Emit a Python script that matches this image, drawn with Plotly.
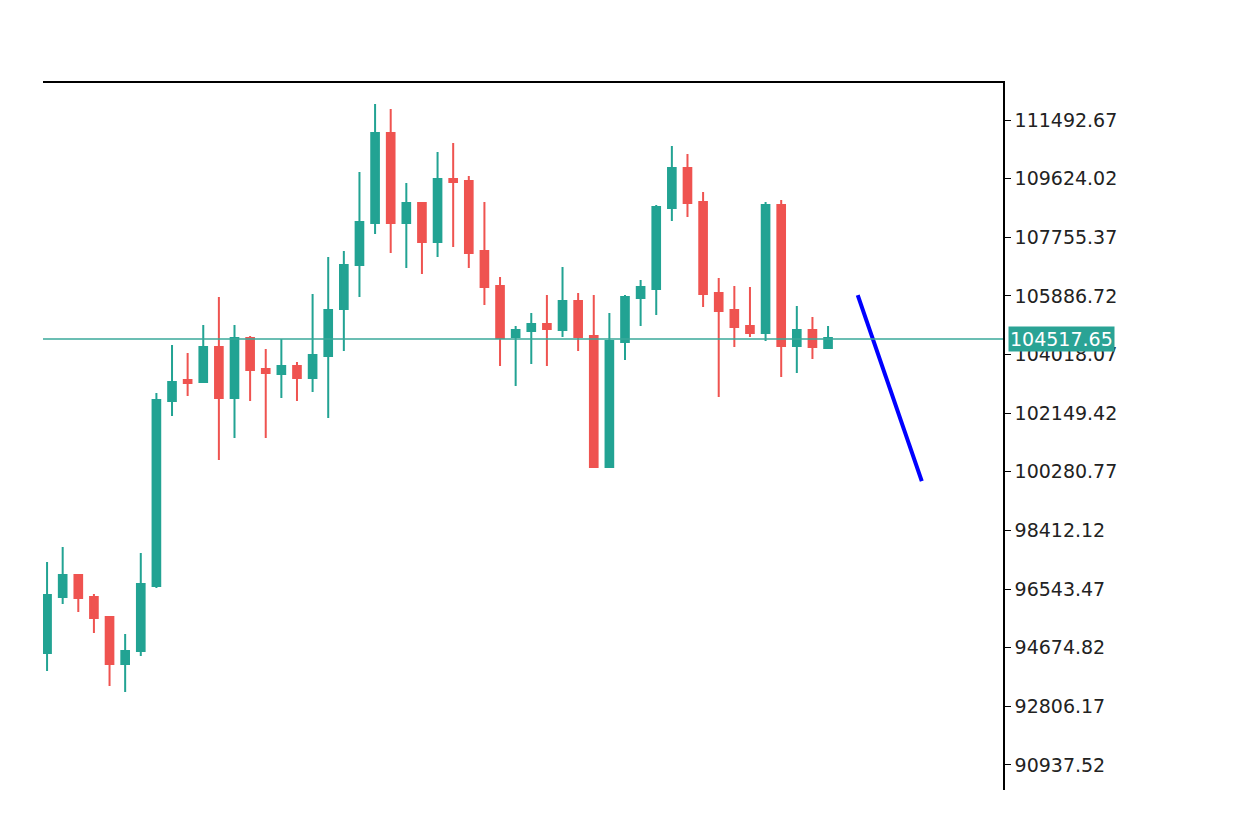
import plotly.graph_objects as go

# candle data (open, high, low, close)
opens = [94506, 96291, 96992, 96291, 95654, 94156, 94570, 96642, 102538, 103207,
         103143, 104258, 102633, 104545, 103557, 103398, 103652, 103271, 103971, 105469,
         106872, 108210, 111078, 108210, 108847, 107605, 109612, 109549, 107318, 106202,
         104577, 104768, 104991, 104800, 105724, 104609, 100433, 104418, 105820, 106107,
         108688, 109963, 108879, 105979, 105437, 104927, 104704, 108784, 104290, 104800,
         104226]
highs = [97406, 97885, 96992, 96387, 95654, 95112, 97693, 102792, 104322, 104067,
         104959, 105852, 104959, 104609, 104194, 104513, 103780, 105947, 107127, 107318,
         109835, 112003, 111843, 109485, 108879, 110473, 110760, 109708, 108879, 106489,
         104927, 105342, 105915, 106808, 105979, 105915, 105342, 105915, 106394, 108784,
         110664, 110409, 109198, 106457, 106202, 106170, 108879, 108943, 105565, 105214,
         104927]
lows = [93933, 96068, 95813, 95144, 93455, 93263, 94411, 96578, 102059, 102697,
        103143, 100657, 101358, 102538, 101358, 102633, 102538, 102824, 101996, 104130,
        105852, 107860, 107254, 106776, 106585, 107127, 107445, 106776, 105597, 103652,
        103015, 103716, 103652, 104577, 104130, 100400, 100400, 103844, 104927, 105278,
        108274, 108401, 105533, 102665, 104258, 104577, 104449, 103302, 103430, 103876,
        104194]
closes = [96355, 96992, 96259, 95622, 94156, 94570, 96705, 102569, 103143, 103111,
          104258, 102633, 104545, 103525, 103430, 103652, 103271, 104003, 105437, 106872,
          108242, 111078, 108210, 108847, 107605, 109612, 109517, 107254, 106170, 104545,
          104800, 104991, 104832, 105724, 104577, 100433, 104449, 105852, 106170, 108720,
          109963, 108847, 105947, 105405, 104895, 104704, 108784, 104290, 104800, 104258,
          104545]

current_price = 104517.65
tick_vals = [111492.67, 109624.02, 107755.37, 105886.72, 104018.07, 102149.42,
             100280.77, 98412.12, 96543.47, 94674.82, 92806.17, 90937.52]

trend_x = [51.9, 56.0]
trend_y = [105915, 99987]

x = list(range(len(opens)))
green = '#22a393'
red = '#ef5350'

fig = go.Figure()
fig.add_trace(go.Candlestick(
    x=x, open=opens, high=highs, low=lows, close=closes,
    increasing=dict(line=dict(color=green, width=2), fillcolor=green),
    decreasing=dict(line=dict(color=red, width=2), fillcolor=red),
    whiskerwidth=0, showlegend=False, hoverinfo='skip'
))
fig.add_trace(go.Scatter(
    x=trend_x, y=trend_y, mode='lines',
    line=dict(color='#0000ff', width=4), showlegend=False
))
fig.add_hline(y=current_price, line=dict(color='#3aa89a', width=1.5))
fig.add_annotation(
    x=1.005, xref='paper', xanchor='left', y=current_price, yref='y',
    text=f"{current_price:.2f}", showarrow=False,
    font=dict(family='DejaVu Sans', size=19, color='white'),
    bgcolor='#2aa395', borderpad=1
)

# page body has an 8px margin, so margins are shifted by that
fig.update_layout(
    width=1233, height=835,
    margin=dict(l=35, r=238, t=75, b=53),
    plot_bgcolor='white', paper_bgcolor='white',
    xaxis=dict(range=[-0.26, 61.2], showgrid=False, zeroline=False,
               showticklabels=False, rangeslider=dict(visible=False),
               showline=True, side='top', linecolor='black', linewidth=1.5,
               ticks=''),
    yaxis=dict(range=[90140, 112673], side='right', showgrid=False, zeroline=False,
               tickvals=tick_vals, ticktext=[f"{v:.2f}" for v in tick_vals],
               ticks='outside', ticklen=6, tickcolor='black',
               showline=True, linecolor='black', linewidth=1.5,
               tickfont=dict(family='DejaVu Sans', size=19, color='#222222')),
)

fig.write_html("out.html")
